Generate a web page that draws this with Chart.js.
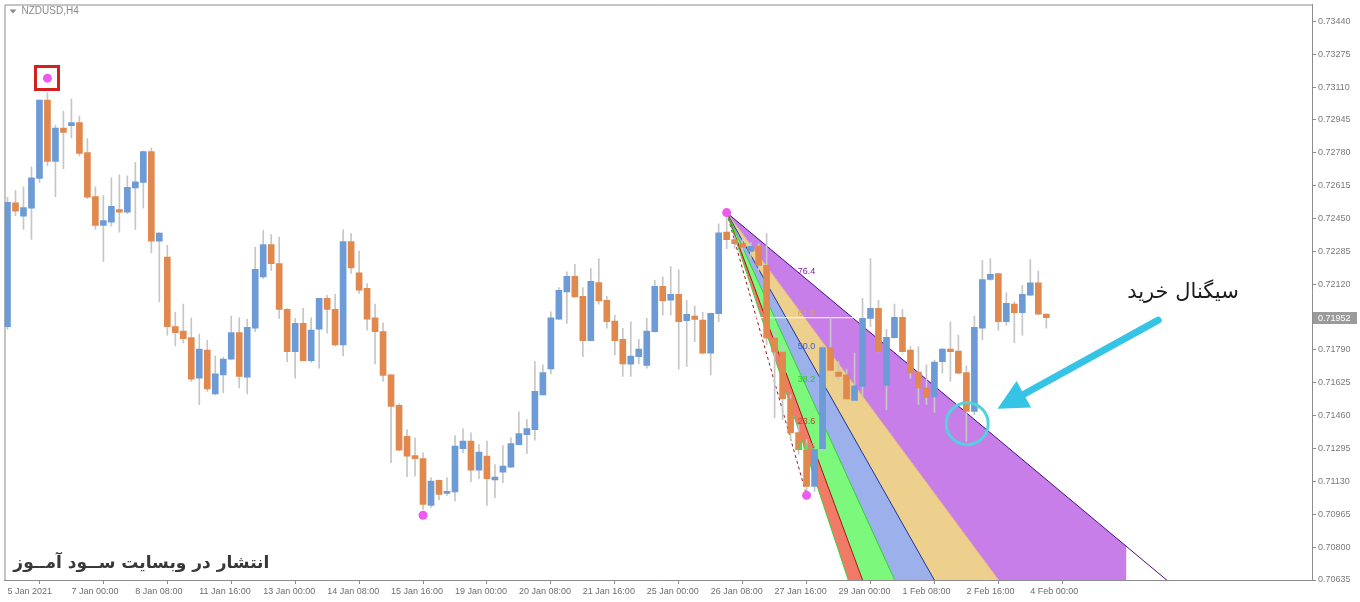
<!DOCTYPE html>
<html>
<head>
<meta charset="utf-8">
<script src="https://cdn.jsdelivr.net/npm/chart.js@4.4.1/dist/chart.umd.min.js"></script>
<style>
  html, body { margin: 0; padding: 0; background: #fff; }
  #wrap { width: 1360px; height: 602px; }
</style>
</head>
<body>
<div id="wrap"><canvas id="c" width="1360" height="602"></canvas></div>
<script>
// ---- NZDUSD H4, bar index 0 = 5 Jan 16:00 ----
const opens = [
  0.71907, 0.72529, 0.72462, 0.72502, 0.72652, 0.73045, 0.72737, 0.72905, 0.72917, 0.72932,
  0.72782, 0.72560, 0.72415, 0.72432, 0.72495, 0.72482, 0.72604, 0.72632, 0.72787, 0.72337,
  0.72257, 0.71907, 0.71885, 0.71852, 0.71649, 0.71790, 0.71570, 0.71665, 0.71744, 0.71877,
  0.71654, 0.71899, 0.72157, 0.72320, 0.72224, 0.71994, 0.71782, 0.71924, 0.71737, 0.71894,
  0.72049, 0.71994, 0.71815, 0.72335, 0.72177, 0.72100, 0.71952, 0.71882, 0.71665, 0.71512,
  0.71357, 0.71260, 0.71245, 0.71010, 0.71135, 0.71070, 0.71077, 0.71295, 0.71332, 0.71187,
  0.71257, 0.71137, 0.71177, 0.71202, 0.71315, 0.71365, 0.71390, 0.71565, 0.71695, 0.71945,
  0.72082, 0.72160, 0.72060, 0.71837, 0.72129, 0.72040, 0.71935, 0.71844, 0.71719, 0.71757,
  0.71712, 0.71882, 0.72110, 0.72040, 0.72069, 0.71937, 0.71960, 0.71940, 0.71774, 0.71972,
  0.72382, 0.72344, 0.72325, 0.72285, 0.72310, 0.72215, 0.71850, 0.71780, 0.71545, 0.71375,
  0.71290, 0.71105, 0.71294, 0.71802, 0.71679, 0.71665, 0.71537, 0.71607, 0.71949, 0.71999,
  0.71612, 0.71852, 0.71954, 0.71790, 0.71679, 0.71599, 0.71554, 0.71732, 0.71795, 0.71785,
  0.71677, 0.71482, 0.71899, 0.72144, 0.72174, 0.71932, 0.72020, 0.71977, 0.72065, 0.72127,
  0.71970
];
const highs = [
  0.72557, 0.72590, 0.72610, 0.72710, 0.73045, 0.73082, 0.72920, 0.72990, 0.73050, 0.72965,
  0.72852, 0.72610, 0.72565, 0.72655, 0.72670, 0.72665, 0.72732, 0.72790, 0.72804, 0.72380,
  0.72315, 0.71980, 0.72020, 0.71950, 0.71870, 0.71840, 0.71760, 0.71755, 0.71960, 0.71952,
  0.71945, 0.72307, 0.72390, 0.72370, 0.72357, 0.71998, 0.71949, 0.71999, 0.71952, 0.72050,
  0.72065, 0.72070, 0.72394, 0.72374, 0.72287, 0.72124, 0.72020, 0.71927, 0.71667, 0.71520,
  0.71390, 0.71349, 0.71274, 0.71149, 0.71137, 0.71149, 0.71360, 0.71394, 0.71374, 0.71315,
  0.71332, 0.71215, 0.71310, 0.71349, 0.71479, 0.71440, 0.71732, 0.71715, 0.71982, 0.72104,
  0.72182, 0.72220, 0.72104, 0.72199, 0.72249, 0.72060, 0.71965, 0.71899, 0.71932, 0.71844,
  0.71949, 0.72140, 0.72157, 0.72209, 0.72192, 0.72040, 0.72010, 0.71979, 0.71975, 0.72424,
  0.72478, 0.72360, 0.72350, 0.72330, 0.72325, 0.72375, 0.71890, 0.71815, 0.71565, 0.71415,
  0.71340, 0.71315, 0.71815, 0.71954, 0.71732, 0.71694, 0.71774, 0.72049, 0.72249, 0.72040,
  0.71894, 0.72020, 0.71994, 0.71807, 0.71807, 0.71715, 0.71740, 0.71797, 0.71932, 0.71865,
  0.71710, 0.71960, 0.72240, 0.72249, 0.72176, 0.72077, 0.72032, 0.72115, 0.72244, 0.72187,
  0.71972
];
const lows = [
  0.71895, 0.72465, 0.72395, 0.72345, 0.72632, 0.72715, 0.72560, 0.72700, 0.72855, 0.72765,
  0.72550, 0.72395, 0.72235, 0.72412, 0.72382, 0.72475, 0.72395, 0.72502, 0.72277, 0.72032,
  0.71865, 0.71810, 0.71825, 0.71632, 0.71515, 0.71582, 0.71565, 0.71574, 0.71740, 0.71599,
  0.71570, 0.71882, 0.72150, 0.72190, 0.71949, 0.71732, 0.71649, 0.71735, 0.71727, 0.71699,
  0.71874, 0.71810, 0.71760, 0.72174, 0.72074, 0.71890, 0.71720, 0.71632, 0.71224, 0.71285,
  0.71154, 0.71157, 0.70990, 0.70999, 0.71037, 0.71060, 0.71032, 0.71274, 0.71129, 0.71144,
  0.71010, 0.71049, 0.71124, 0.71200, 0.71313, 0.71270, 0.71337, 0.71563, 0.71670, 0.71943,
  0.71924, 0.72055, 0.71757, 0.71835, 0.72020, 0.71899, 0.71765, 0.71657, 0.71657, 0.71720,
  0.71699, 0.71880, 0.71965, 0.71965, 0.71694, 0.71707, 0.71832, 0.71770, 0.71665, 0.71932,
  0.72299, 0.72300, 0.72280, 0.72250, 0.72190, 0.71815, 0.71450, 0.71440, 0.71340, 0.71265,
  0.71062, 0.71080, 0.71280, 0.71685, 0.71640, 0.71540, 0.71535, 0.71557, 0.71907, 0.71780,
  0.71490, 0.71850, 0.71780, 0.71649, 0.71515, 0.71515, 0.71477, 0.71674, 0.71632, 0.71672,
  0.71332, 0.71465, 0.71840, 0.72140, 0.71890, 0.71915, 0.71827, 0.71865, 0.72063, 0.71968,
  0.71899
];
const closes = [
  0.72532, 0.72487, 0.72505, 0.72654, 0.73045, 0.72737, 0.72905, 0.72882, 0.72932, 0.72777,
  0.72557, 0.72415, 0.72440, 0.72512, 0.72482, 0.72607, 0.72635, 0.72787, 0.72337, 0.72377,
  0.71907, 0.71877, 0.71847, 0.71644, 0.71795, 0.71594, 0.71670, 0.71745, 0.71877, 0.71657,
  0.71904, 0.72195, 0.72320, 0.72224, 0.71994, 0.71782, 0.71924, 0.71737, 0.71890, 0.72049,
  0.71994, 0.71815, 0.72335, 0.72202, 0.72090, 0.71945, 0.71882, 0.71662, 0.71507, 0.71287,
  0.71257, 0.71244, 0.71015, 0.71132, 0.71065, 0.71080, 0.71307, 0.71332, 0.71187, 0.71277,
  0.71144, 0.71152, 0.71207, 0.71320, 0.71370, 0.71395, 0.71582, 0.71677, 0.71952, 0.72090,
  0.72160, 0.72057, 0.71837, 0.72135, 0.72037, 0.71932, 0.71837, 0.71720, 0.71760, 0.71794,
  0.71885, 0.72110, 0.72037, 0.72069, 0.71932, 0.71969, 0.71944, 0.71774, 0.71974, 0.72379,
  0.72344, 0.72324, 0.72305, 0.72310, 0.72215, 0.71850, 0.71780, 0.71545, 0.71375, 0.71290,
  0.71105, 0.71290, 0.71802, 0.71687, 0.71657, 0.71544, 0.71610, 0.71949, 0.71999, 0.71782,
  0.71854, 0.71954, 0.71782, 0.71674, 0.71599, 0.71552, 0.71729, 0.71795, 0.71782, 0.71674,
  0.71482, 0.71904, 0.72144, 0.72170, 0.71932, 0.72024, 0.71977, 0.72070, 0.72127, 0.71970,
  0.71952
];

const xTickIdx = [0, 8, 16, 24, 32, 40, 48, 56, 64, 72, 80, 88, 96, 104, 112, 120, 128];
const xTickLabels = ['5 Jan 2021', '7 Jan 00:00', '8 Jan 08:00', '11 Jan 16:00', '13 Jan 00:00',
  '14 Jan 08:00', '15 Jan 16:00', '19 Jan 00:00', '20 Jan 08:00', '21 Jan 16:00', '25 Jan 00:00',
  '26 Jan 08:00', '27 Jan 16:00', '29 Jan 00:00', '1 Feb 08:00', '2 Feb 16:00', '4 Feb 00:00'];
const yTicks = [0.73440, 0.73275, 0.73110, 0.72945, 0.72780, 0.72615, 0.72450, 0.72285, 0.72120,
  0.71955, 0.71790, 0.71625, 0.71460, 0.71295, 0.71130, 0.70965, 0.70800, 0.70635];

// zigzag / fan anchor dots
const dotIdx = [5, 52, 90, 100];
const dotPrice = [0.73155, 0.70960, 0.72480, 0.71060];

// fibo fan
const fanHigh = { x: 90, y: 0.72480 };
const fanLow = { x: 100, y: 0.71060 };
const fanLevels = [0.146, 0.236, 0.382, 0.5, 0.618, 0.764];
const fanLabels = ['14.6', '23.6', '38.2', '50.0', '61.8', '76.4'];
const fanFillEnd = 140;
const bidPrice = 0.71952;

// annotations (bar index, price)
const signalCircle = { x: 120.1, y: 0.71420 };
const arrowFrom = { x: 144, y: 0.71940 };
const arrowTo = { x: 123.9, y: 0.71495 };
const signalText = { x: 147.1, y: 0.72080, text: 'سیگنال خرید' };
const watermark = { x: 16.75, y: 0.70715, text: 'انتشار در وبسایت ســود آمــوز' };

const BULL = '#6c9bd6', BEAR = '#e0884e', WICK = '#c6c6c6';
const bandColors = ['#f27b68', '#7cf97c', '#9cb1ec', '#eed08e', '#c77ee9'];
const fanLineColors = ['#3fcf3f', '#a81010', '#2fcf2f', '#1c2f9a', '#e3b872', '#4b0a82'];
const fanLabelColors = ['#4ee04e', '#c8402a', '#26cc26', '#3a5fd9', '#d5a056', '#7a1fa2'];
const AXIS = '#8c8c8c';

const FLOOR = 0.700;
// point on a fan ray at a given price
function fanAt(r, price) {
  const drop = (1 - r) * (fanHigh.y - fanLow.y);
  return { x: fanHigh.x + (fanLow.x - fanHigh.x) * (fanHigh.y - price) / drop, y: price };
}
function fanAtX(r, x) {
  const drop = (1 - r) * (fanHigh.y - fanLow.y);
  return { x: x, y: fanHigh.y - (x - fanHigh.x) / (fanLow.x - fanHigh.x) * drop };
}

const idx = opens.map((_, i) => i);
const datasets = [];

// bands
for (let i = 0; i < fanLevels.length - 1; i++) {
  const origin = { x: fanHigh.x, y: fanHigh.y };
  let pts;
  const outer = fanAt(fanLevels[i + 1], FLOOR);
  if (outer.x > fanFillEnd) {
    pts = [origin, fanAtX(fanLevels[i + 1], fanFillEnd), { x: fanFillEnd, y: FLOOR }, fanAt(fanLevels[i], FLOOR), origin];
  } else {
    pts = [origin, outer, fanAt(fanLevels[i], FLOOR), origin];
  }
  datasets.push({ type: 'line', data: pts, fill: 'shape', backgroundColor: bandColors[i],
    borderColor: 'rgba(0,0,0,0)', borderWidth: 0, pointRadius: 0, tension: 0, order: 10 });
}
// fan rays
fanLevels.forEach((r, i) => {
  datasets.push({ type: 'line', data: [{ x: fanHigh.x, y: fanHigh.y }, fanAt(r, FLOOR)], fill: false,
    borderColor: fanLineColors[i], borderWidth: 1, pointRadius: 0, tension: 0, order: 8 });
});
// trend line high -> low
datasets.push({ type: 'line', data: [fanHigh, fanLow], fill: false, borderColor: '#a01010',
  borderWidth: 1, borderDash: [3, 3], pointRadius: 0, order: 8 });
// bid line
datasets.push({ type: 'line', data: [{ x: -1, y: bidPrice }, { x: 170, y: bidPrice }], fill: false,
  borderColor: '#ffffff', borderWidth: 1, pointRadius: 0, order: 7 });
// wicks
datasets.push({ type: 'bar', data: idx.map(i => ({ x: i, y: [lows[i], highs[i]] })),
  backgroundColor: WICK, barThickness: 1, grouped: false, order: 5 });
// bodies
datasets.push({ type: 'bar', data: idx.map(i => ({ x: i, y: [opens[i], closes[i]] })),
  backgroundColor: idx.map(i => closes[i] >= opens[i] ? BULL : BEAR),
  barThickness: 6, minBarLength: 1, grouped: false, order: 4 });
// dots
datasets.push({ type: 'line', data: dotIdx.map((x, i) => ({ x: x, y: dotPrice[i] })), showLine: false,
  pointRadius: 4.5, pointBackgroundColor: '#ee5aee', pointBorderWidth: 0, order: 1 });

function px(chart, p) {
  return { x: chart.scales.x.getPixelForValue(p.x), y: chart.scales.y.getPixelForValue(p.y) };
}

const overlay = {
  id: 'overlay',
  beforeDraw(chart) {
    const ctx = chart.ctx;
    ctx.save();
    ctx.fillStyle = '#ffffff';
    ctx.fillRect(0, 0, chart.width, chart.height);
    ctx.restore();
  },
  afterDatasetsDraw(chart) {
    const { ctx, chartArea: a } = chart;
    ctx.save();
    ctx.beginPath();
    ctx.rect(a.left, a.top, a.right - a.left, a.bottom - a.top);
    ctx.clip();

    // fan level labels
    ctx.font = '9px "Liberation Sans"';
    ctx.textAlign = 'center';
    ctx.textBaseline = 'bottom';
    fanLevels.forEach((r, i) => {
      const p = px(chart, { x: fanLow.x, y: fanLow.y + r * (fanHigh.y - fanLow.y) });
      ctx.fillStyle = fanLabelColors[i];
      ctx.fillText(fanLabels[i], p.x, p.y - 3);
    });

    // red box around the top dot
    const top = px(chart, { x: dotIdx[0], y: dotPrice[0] });
    ctx.strokeStyle = '#d61f1f';
    ctx.lineWidth = 3;
    ctx.strokeRect(Math.round(top.x) - 11.5, Math.round(top.y) - 11.5, 23, 23);

    // signal circle
    const c = px(chart, signalCircle);
    ctx.strokeStyle = '#4fd3df';
    ctx.lineWidth = 3;
    ctx.beginPath();
    ctx.arc(c.x, c.y, 21, 0, Math.PI * 2);
    ctx.stroke();

    // arrow
    const f = px(chart, arrowFrom), t = px(chart, arrowTo);
    const ang = Math.atan2(t.y - f.y, t.x - f.x);
    const headLen = 30, headW = 15;
    const bx = t.x - Math.cos(ang) * headLen, by = t.y - Math.sin(ang) * headLen;
    ctx.strokeStyle = '#35c4e6';
    ctx.fillStyle = '#35c4e6';
    ctx.lineWidth = 7;
    ctx.lineCap = 'round';
    ctx.beginPath();
    ctx.moveTo(f.x, f.y);
    ctx.lineTo(bx, by);
    ctx.stroke();
    ctx.beginPath();
    ctx.moveTo(t.x, t.y);
    ctx.lineTo(bx + Math.sin(ang) * headW, by - Math.cos(ang) * headW);
    ctx.lineTo(bx - Math.sin(ang) * headW, by + Math.cos(ang) * headW);
    ctx.closePath();
    ctx.fill();

    // texts
    ctx.textAlign = 'center';
    ctx.textBaseline = 'middle';
    const s = px(chart, signalText);
    ctx.fillStyle = '#1c1c1c';
    ctx.font = '21px "DejaVu Sans"';
    ctx.fillText(signalText.text, s.x, s.y);
    const w = px(chart, watermark);
    ctx.fillStyle = '#383838';
    ctx.font = 'bold 17px "DejaVu Sans"';
    ctx.fillText(watermark.text, w.x, w.y);
    ctx.restore();
  },
  afterDraw(chart) {
    const { ctx, chartArea: a } = chart;
    ctx.save();
    // frame left/top
    ctx.strokeStyle = AXIS;
    ctx.lineWidth = 1;
    ctx.beginPath();
    ctx.moveTo(a.left + 0.5, a.bottom);
    ctx.lineTo(a.left + 0.5, a.top + 0.5);
    ctx.lineTo(a.right, a.top + 0.5);
    ctx.stroke();

    // symbol title
    ctx.fillStyle = '#8a8a8a';
    ctx.beginPath();
    ctx.moveTo(a.left + 5, a.top + 5);
    ctx.lineTo(a.left + 12, a.top + 5);
    ctx.lineTo(a.left + 8.5, a.top + 9);
    ctx.closePath();
    ctx.fill();
    ctx.font = '10px "Liberation Sans"';
    ctx.textAlign = 'left';
    ctx.textBaseline = 'middle';
    ctx.fillText('NZDUSD,H4', a.left + 17, a.top + 7);

    // bid price tag
    const y = Math.round(chart.scales.y.getPixelForValue(bidPrice));
    ctx.fillStyle = '#9b9b9b';
    ctx.fillRect(a.right + 1, y - 6, 44, 12);
    ctx.fillStyle = '#ffffff';
    ctx.font = '9px "Liberation Sans"';
    ctx.fillText(bidPrice.toFixed(5), a.right + 6, y + 0.5);
    ctx.restore();
  }
};

function noPad(s) {
  s.paddingTop = 0; s.paddingBottom = 0; s.paddingLeft = 0; s.paddingRight = 0;
}

new Chart(document.getElementById('c'), {
  type: 'bar',
  data: { datasets: datasets },
  options: {
    responsive: false,
    devicePixelRatio: 1,
    animation: false,
    layout: { padding: { left: 3, top: 3, right: 0, bottom: 0 } },
    plugins: { legend: { display: false }, tooltip: { enabled: false } },
    scales: {
      x: {
        type: 'linear', min: -0.375, max: 163.25, offset: false,
        afterBuildTicks: s => { s.ticks = xTickIdx.map(v => ({ value: v })); },
        afterFit: s => { s.height = 22; noPad(s); },
        ticks: {
          autoSkip: false, maxRotation: 0, align: 'start', padding: 2,
          color: '#6e6e6e', font: { size: 9, family: 'Liberation Sans' },
          callback: v => xTickLabels[xTickIdx.indexOf(v)]
        },
        grid: { drawOnChartArea: false, tickLength: 4, color: AXIS },
        border: { display: true, color: AXIS }
      },
      y: {
        type: 'linear', position: 'right', min: 0.70635, max: 0.73525,
        afterBuildTicks: s => { s.ticks = yTicks.map(v => ({ value: v })); },
        afterFit: s => { s.width = 48; noPad(s); },
        ticks: {
          autoSkip: false, padding: 2,
          color: '#7a7a7a', font: { size: 9, family: 'Liberation Sans' },
          callback: v => v.toFixed(5)
        },
        grid: { drawOnChartArea: false, tickLength: 4, color: AXIS },
        border: { display: true, color: AXIS }
      }
    }
  },
  plugins: [overlay]
});
</script>
</body>
</html>
